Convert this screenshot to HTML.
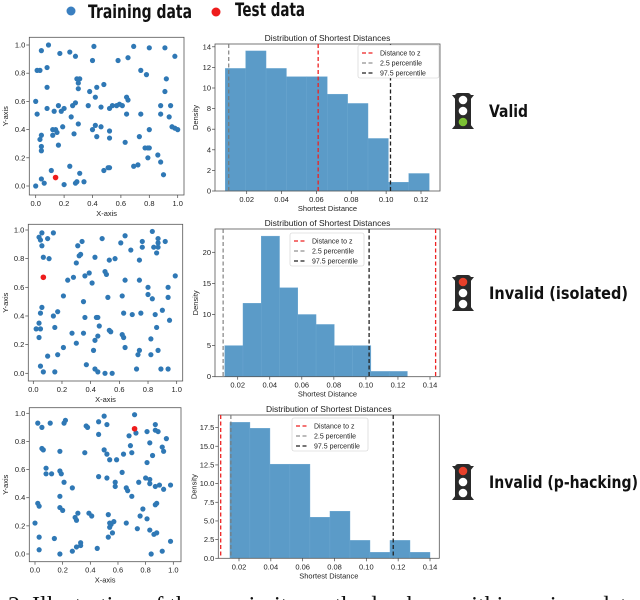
<!DOCTYPE html>
<html><head><meta charset="utf-8"><style>
body{margin:0;background:#fff;width:640px;height:600px;overflow:hidden}
svg{display:block}
.t{font-family:"Liberation Sans",sans-serif;fill:#222}
.b{font-family:"DejaVu Sans","Liberation Sans",sans-serif;font-weight:bold;fill:#111}
</style></head><body>
<svg id="fig" width="640" height="600" viewBox="0 0 640 600">
<g>
<circle cx="71" cy="11" r="4.5" fill="#3a7fc0"/>
<text x="88" y="18" class="b" font-size="19" textLength="104" lengthAdjust="spacingAndGlyphs">Training data</text>
<circle cx="216" cy="12" r="4.5" fill="#ee1c1c"/>
<text x="235" y="16" class="b" font-size="19" textLength="70" lengthAdjust="spacingAndGlyphs">Test data</text>
</g>
<text x="8" y="613" font-family="Liberation Serif,serif" font-size="24" fill="#111">2. Illustration of the proximity method, where within a given data pool (ber</text>
</svg>
<script>
const S1_TRAIN=[[0.01,0.82],[0.03,0.82],[0.04,0.96],[0.09,1.0],[0.08,0.84],[0.17,0.94],[0.24,0.95],[0.28,0.92],[0.41,0.99],[0.40,0.89],[0.58,0.89],[0.65,0.91],[0.69,0.99],[0.80,0.98],[0.91,0.98],[0.98,0.92],[0.74,0.82],[0.78,0.79],[0.92,0.76],[0.29,0.76],[0.31,0.76],[0.30,0.73],[0.30,0.69],[0.48,0.72],[0.43,0.70],[0.38,0.67],[0.08,0.70],[0.91,0.67],[0.42,0.63],[0.00,0.60],[0.01,0.51],[0.08,0.55],[0.16,0.57],[0.20,0.55],[0.18,0.53],[0.13,0.53],[0.26,0.57],[0.28,0.59],[0.37,0.57],[0.46,0.56],[0.52,0.55],[0.54,0.57],[0.57,0.57],[0.59,0.58],[0.61,0.57],[0.64,0.63],[0.65,0.61],[0.64,0.51],[0.74,0.51],[0.88,0.57],[0.88,0.51],[0.95,0.57],[0.94,0.49],[0.96,0.42],[0.98,0.41],[1.0,0.40],[0.25,0.49],[0.30,0.44],[0.19,0.42],[0.42,0.43],[0.46,0.42],[0.40,0.40],[0.52,0.39],[0.80,0.40],[0.12,0.40],[0.14,0.40],[0.15,0.38],[0.12,0.36],[0.04,0.36],[0.03,0.33],[0.27,0.37],[0.43,0.35],[0.52,0.34],[0.73,0.35],[0.16,0.29],[0.63,0.31],[0.04,0.28],[0.04,0.25],[0.77,0.27],[0.79,0.27],[0.80,0.27],[0.79,0.20],[0.86,0.22],[0.88,0.17],[0.90,0.08],[0.69,0.14],[0.72,0.15],[0.52,0.13],[0.51,0.13],[0.48,0.11],[0.24,0.14],[0.31,0.09],[0.11,0.11],[0.04,0.05],[0.06,0.02],[0.0,0.0],[0.20,0.01],[0.28,0.02],[0.29,0.03],[0.34,0.03]];
const S1_TEST=[0.14,0.06];
const S2_TRAIN=[[0.04,0.95],[0.05,0.93],[0.06,0.98],[0.06,0.89],[0.14,0.98],[0.10,0.94],[0.07,0.81],[0.11,0.80],[0.31,0.89],[0.34,0.92],[0.32,0.82],[0.33,0.83],[0.30,0.77],[0.43,0.81],[0.48,0.94],[0.53,0.79],[0.57,0.80],[0.61,0.91],[0.64,0.96],[0.68,0.86],[0.74,0.79],[0.76,0.92],[0.76,0.88],[0.83,0.99],[0.84,0.88],[0.87,0.94],[0.87,0.91],[0.87,0.88],[0.86,0.84],[0.92,0.92],[0.50,0.71],[0.51,0.69],[0.39,0.70],[0.36,0.68],[0.28,0.67],[0.24,0.65],[0.41,0.63],[0.64,0.65],[0.74,0.65],[0.99,0.68],[0.80,0.60],[0.80,0.55],[0.83,0.52],[0.94,0.60],[0.94,0.53],[0.21,0.54],[0.35,0.50],[0.52,0.53],[0.62,0.54],[0.06,0.46],[0.05,0.42],[0.17,0.43],[0.14,0.40],[0.36,0.39],[0.44,0.39],[0.45,0.39],[0.63,0.42],[0.69,0.41],[0.75,0.42],[0.85,0.41],[0.90,0.44],[0.95,0.37],[0.04,0.35],[0.02,0.31],[0.05,0.31],[0.15,0.32],[0.46,0.33],[0.86,0.32],[0.53,0.30],[0.54,0.29],[0.27,0.28],[0.35,0.28],[0.62,0.27],[0.63,0.25],[0.04,0.25],[0.45,0.26],[0.43,0.23],[0.30,0.21],[0.82,0.24],[0.21,0.18],[0.64,0.18],[0.17,0.13],[0.42,0.16],[0.74,0.16],[0.73,0.13],[0.82,0.13],[0.87,0.16],[0.10,0.12],[0.05,0.05],[0.37,0.06],[0.07,0.01],[0.15,0.01],[0.43,0.03],[0.45,0.01],[0.50,0.00],[0.55,0.00],[0.72,0.03],[0.89,0.03],[0.94,0.03]];
const S2_TEST=[0.07,0.67];
const S3_TRAIN=[[0.02,0.93],[0.05,0.90],[0.11,0.93],[0.21,0.93],[0.22,0.95],[0.37,0.91],[0.38,0.90],[0.46,0.94],[0.50,0.98],[0.52,0.92],[0.72,0.99],[0.87,0.92],[0.87,0.88],[0.89,0.87],[0.81,0.87],[0.46,0.85],[0.68,0.84],[0.73,0.86],[0.83,0.79],[0.95,0.82],[0.92,0.76],[0.93,0.73],[0.05,0.75],[0.06,0.74],[0.18,0.73],[0.36,0.72],[0.50,0.74],[0.52,0.71],[0.54,0.67],[0.59,0.67],[0.64,0.71],[0.69,0.77],[0.70,0.72],[0.85,0.70],[0.81,0.65],[0.08,0.61],[0.08,0.57],[0.12,0.57],[0.18,0.59],[0.19,0.57],[0.21,0.51],[0.27,0.47],[0.46,0.55],[0.52,0.54],[0.58,0.51],[0.58,0.48],[0.63,0.58],[0.66,0.47],[0.67,0.45],[0.75,0.51],[0.80,0.54],[0.83,0.53],[0.83,0.50],[0.87,0.48],[0.90,0.49],[0.93,0.46],[0.98,0.49],[0.18,0.41],[0.70,0.41],[0.02,0.36],[0.03,0.34],[0.18,0.33],[0.20,0.31],[0.31,0.29],[0.39,0.29],[0.41,0.27],[0.78,0.32],[0.88,0.36],[0.87,0.35],[0.76,0.27],[0.81,0.25],[0.29,0.26],[0.30,0.24],[0.00,0.22],[0.54,0.22],[0.55,0.21],[0.57,0.23],[0.53,0.28],[0.54,0.19],[0.66,0.22],[0.74,0.18],[0.56,0.15],[0.53,0.12],[0.83,0.17],[0.86,0.14],[0.88,0.15],[0.03,0.12],[0.14,0.11],[0.33,0.08],[0.33,0.06],[0.30,0.05],[0.27,0.02],[0.45,0.04],[0.98,0.09],[0.03,0.03],[0.18,0.00],[0.84,0.00],[0.92,0.02]];
const S3_TEST=[0.72,0.89];
const SCATTER_TICKS=[0,0.2,0.4,0.6,0.8,1.0];

const H1_START=0.0077, H1_WIDTH=0.0117;
const H1_VALUES=[11.9,13.6,11.9,11.1,11.1,9.4,8.5,5.1,0.85,1.7];
const H1_LINES=[0.061,0.0097,0.1025];
const H1_XTICKS=[0.02,0.04,0.06,0.08,0.10,0.12];
const H1_YTICKS=[0,2,4,6,8,10,12,14];
const H2_START=0.0119, H2_WIDTH=0.0114;
const H2_VALUES=[5,11.8,22.6,14.3,10,8.4,5,5,0.85,0.85];
const H2_LINES=[0.1435,0.0109,0.102];
const H2_XTICKS=[0.02,0.04,0.06,0.08,0.10,0.12,0.14];
const H2_YTICKS=[0,5,10,15,20];
const H3_START=0.0143, H3_WIDTH=0.01257;
const H3_VALUES=[18.2,17.4,12.6,12.6,5.5,6.3,2.4,0.8,2.4,0.8];
const H3_LINES=[0.0085,0.0149,0.1169];
const H3_XTICKS=[0.02,0.04,0.06,0.08,0.10,0.12,0.14];
const H3_YTICKS=[0,2.5,5,7.5,10,12.5,15,17.5];

const NS='http://www.w3.org/2000/svg';
const svg=document.getElementById('fig');
function mk(tag,attrs,parent){const e=document.createElementNS(NS,tag);for(const k in attrs)e.setAttribute(k,attrs[k]);(parent||svg).appendChild(e);return e;}
function txt(s,attrs,parent){const e=mk('text',attrs,parent);e.textContent=s;return e;}

function scatter(idx,box,x0,x1,y0,y1,train,test){
  const g=mk('g',{});
  
  
  const sx=v=>x0+(x1-x0)*v, sy=v=>y0+(y1-y0)*v;
  const fr=mk('rect',{x:box[0],y:box[1],width:box[2]-box[0],height:box[3]-box[1],fill:'none',stroke:'#555','stroke-width':0.8},g);
  
  
  SCATTER_TICKS.forEach(t=>{
    mk('line',{x1:sx(t),x2:sx(t),y1:box[3],y2:box[3]+3,stroke:'#444','stroke-width':0.7},g);
    const xl=txt(t.toFixed(1),{x:sx(t),y:box[3]+11,'font-size':7.5,'text-anchor':'middle',class:'t'},g);
    
    
    mk('line',{x1:box[0]-3,x2:box[0],y1:sy(t),y2:sy(t),stroke:'#444','stroke-width':0.7},g);
    const yl=txt(t.toFixed(1),{x:box[0]-4,y:sy(t)+2.5,'font-size':7.5,'text-anchor':'end',class:'t'},g);
    
    
  });
  const xa=txt('X-axis',{x:(box[0]+box[2])/2,y:box[3]+21,'font-size':7.5,'text-anchor':'middle',class:'t'},g);
  
  
  const ya=txt('Y-axis',{x:0,y:0,'font-size':7.5,'text-anchor':'middle',class:'t',transform:`translate(8,${(box[1]+box[3])/2}) rotate(-90)`},g);
  
  
  train.forEach(p=>{
    const c=mk('circle',{cx:sx(p[0]),cy:sy(p[1]),r:2.6,fill:'#2f78b5'},g);
    
    
  });
  const c=mk('circle',{cx:sx(test[0]),cy:sy(test[1]),r:2.8,fill:'#ee1c1c'},g);
  
  
}
scatter(1,[29.3,37.3,184,195],35.7,177.7,186,45,S1_TRAIN,S1_TEST);
scatter(2,[28.3,224.3,182.7,381],33.3,176.7,373.3,230,S2_TRAIN,S2_TEST);
scatter(3,[29.3,407.7,181,561.7],35,173.3,554,413.3,S3_TRAIN,S3_TEST);

function hist(idx,box,xa,xb,va,vb,yPerUnit,start,width,values,lines,xt,yt,leg,fmt,dOff){
  const g=mk('g',{});
  
  
  const sx=v=>xa+(v-va)*(xb-xa)/(vb-va), sy=v=>box[3]-v*yPerUnit;
  values.forEach((v,i)=>{
    const l=sx(start+i*width), r=sx(start+(i+1)*width);
    const b=mk('rect',{x:l,y:sy(v),width:r-l,height:box[3]-sy(v),fill:'#5b9bc8',stroke:'#6aa6d0','stroke-width':0.4},g);
    
    
  });
  const styles=[['#ee2222','4,2.5',1.3],['#777','4,2.5',1.1],['#222','4,2.5',1.3]];
  const fr=mk('rect',{x:box[0],y:box[1],width:box[2]-box[0],height:box[3]-box[1],fill:'none',stroke:'#555','stroke-width':0.8},g);
  
  
  lines.forEach((v,i)=>{
    const ln=mk('line',{x1:sx(v),x2:sx(v),y1:box[1],y2:box[3],stroke:styles[i][0],'stroke-dasharray':styles[i][1],'stroke-width':styles[i][2]},g);
    
    
  });
  xt.forEach(t=>{
    mk('line',{x1:sx(t),x2:sx(t),y1:box[3],y2:box[3]+3,stroke:'#444','stroke-width':0.7},g);
    const l=txt(t.toFixed(2),{x:sx(t),y:box[3]+11,'font-size':7.5,'text-anchor':'middle',class:'t'},g);
    
    
  });
  yt.forEach(t=>{
    mk('line',{x1:box[0]-3,x2:box[0],y1:sy(t),y2:sy(t),stroke:'#444','stroke-width':0.7},g);
    const l=txt(fmt(t),{x:box[0]-4,y:sy(t)+2.5,'font-size':7.5,'text-anchor':'end',class:'t'},g);
    
    
  });
  const tt=txt('Distribution of Shortest Distances',{x:(box[0]+box[2])/2,y:box[1]-3,'font-size':8.5,'text-anchor':'middle',class:'t'},g);
  
  
  const xl=txt('Shortest Distance',{x:(box[0]+box[2])/2,y:box[3]+20,'font-size':7.5,'text-anchor':'middle',class:'t'},g);
  
  
  const yl=txt('Density',{x:0,y:0,'font-size':7.5,'text-anchor':'middle',class:'t',transform:`translate(${box[0]-dOff},${(box[1]+box[3])/2}) rotate(-90)`},g);
  
  
  const lg=mk('g',{},g);
  
  
  mk('rect',{x:leg[0],y:leg[1],width:leg[2],height:33,fill:'#fff',stroke:'#ccc','stroke-width':0.6,rx:2},lg);
  ['Distance to z','2.5 percentile','97.5 percentile'].forEach((s,i)=>{
    const y=leg[1]+8+i*10;
    mk('line',{x1:leg[0]+4,x2:leg[0]+17,y1:y,y2:y,stroke:styles[i][0],'stroke-dasharray':'4,2.5','stroke-width':styles[i][2]},lg);
    const e=txt(s,{x:leg[0]+22,y:y+2.5,'font-size':7,class:'t'},lg);
    
    
  });
}
hist(1,[215,44,440,191],246.7,421,0.02,0.12,10.3,H1_START,H1_WIDTH,H1_VALUES,H1_LINES,H1_XTICKS,H1_YTICKS,[358,45,81],t=>String(t),17);
hist(2,[215,229,440,376.7],237.7,430,0.02,0.14,6.22,H2_START,H2_WIDTH,H2_VALUES,H2_LINES,H2_XTICKS,H2_YTICKS,[290,233,74],t=>String(t),17);
hist(3,[218.3,415,439.3,558.3],239,430,0.02,0.14,7.47,H3_START,H3_WIDTH,H3_VALUES,H3_LINES,H3_XTICKS,H3_YTICKS,[292,418,76],t=>t.toFixed(1),22);

function light(idx,cy,lit,label,w){
  const g=mk('g',{});
  
  
  const x=463;
  mk('path',{d:`M${x-11},${cy-16} h22 l-4,5 v24 l4,5 h-22 l4,-5 v-24 z`,fill:'#2a2a2a'},g);
  mk('rect',{x:x-8,y:cy-18,width:16,height:36,rx:3,fill:'#2a2a2a'},g);
  [-11,0,11].forEach((d,i)=>{
    let f='#fff';
    if(i===lit)f=lit===0?'#e8402a':'#7cc234';
    mk('circle',{cx:x,cy:cy+d,r:4.3,fill:f},g);
  });
  const t=txt(label,{x:489,y:cy+6,'font-size':17,class:'b',textLength:w,lengthAdjust:'spacingAndGlyphs'});
  
  
}
light(1,111,2,'Valid',39);
light(2,293,0,'Invalid (isolated)',139);
light(3,482,0,'Invalid (p-hacking)',149);
</script>
</body></html>
